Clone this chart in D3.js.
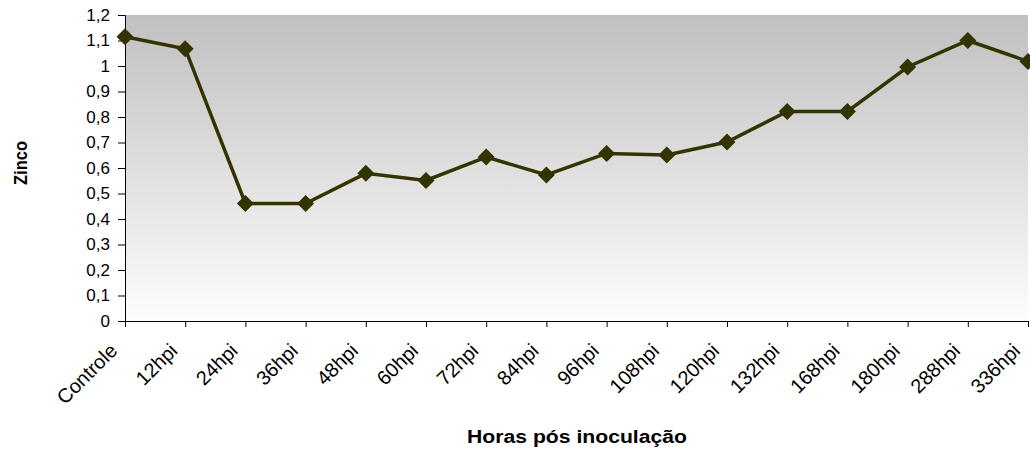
<!DOCTYPE html>
<html>
<head>
<meta charset="utf-8">
<script src="https://cdn.jsdelivr.net/npm/d3@7"></script>
<style>
  body { margin: 0; background: #fff; }
  text { font-family: "Liberation Sans", Arial, sans-serif; }
</style>
</head>
<body>
<div id="chart"></div>
<script>
// data
const categories = ['Controle', '12hpi', '24hpi', '36hpi', '48hpi', '60hpi', '72hpi', '84hpi',
  '96hpi', '108hpi', '120hpi', '132hpi', '168hpi', '180hpi', '288hpi', '336hpi'];
const zinco = [1.115, 1.068, 0.461, 0.461, 0.579, 0.551, 0.643, 0.573,
  0.657, 0.651, 0.702, 0.822, 0.822, 0.996, 1.1, 1.018];
const yTicks = [0, 0.1, 0.2, 0.3, 0.4, 0.5, 0.6, 0.7, 0.8, 0.9, 1, 1.1, 1.2];

const w = 1030;
const h = 453;
const margin = { left: 125, top: 15, right: 2, bottom: 132 };

const svg = d3.select('#chart').append('svg')
  .attr('width', w)
  .attr('height', h);

const x = d3.scalePoint()
  .domain(categories)
  .range([margin.left, w - margin.right]);

const y = d3.scaleLinear()
  .domain([0, 1.2])
  .range([h - margin.bottom, margin.top]);

// plot area background gradient
const grad = svg.append('defs').append('linearGradient')
  .attr('id', 'bg')
  .attr('x1', 0).attr('y1', 0).attr('x2', 0).attr('y2', 1);
grad.append('stop').attr('offset', '0%').attr('stop-color', '#c0c0c0');
grad.append('stop').attr('offset', '100%').attr('stop-color', '#fdfdfd');

svg.append('rect')
  .attr('x', margin.left)
  .attr('y', margin.top)
  .attr('width', w - margin.right - margin.left)
  .attr('height', h - margin.bottom - margin.top)
  .attr('fill', 'url(#bg)');

const fmt = d => String(d).replace('.', ',');

// y axis
const yAxis = svg.append('g')
  .attr('transform', `translate(${margin.left},0)`)
  .call(d3.axisLeft(y).tickValues(yTicks).tickFormat(fmt).tickSize(7).tickPadding(8));
yAxis.select('.domain').attr('stroke', '#000');
yAxis.selectAll('text')
  .attr('font-size', 17)
  .attr('fill', '#000')
  .attr('font-family', '"Liberation Sans", Arial, sans-serif');

// x axis
const xAxis = svg.append('g')
  .attr('transform', `translate(0,${h - margin.bottom})`)
  .call(d3.axisBottom(x).tickSize(6).tickSizeOuter(0));
xAxis.select('.domain').attr('stroke', '#000');
xAxis.selectAll('text')
  .attr('font-size', 20)
  .attr('fill', '#000')
  .attr('font-family', '"Liberation Sans", Arial, sans-serif')
  .attr('text-anchor', 'end')
  .attr('x', 0)
  .attr('y', 0)
  .attr('dy', 0)
  .attr('transform', 'translate(-7,31) rotate(-45)');

// line
svg.append('path')
  .datum(zinco)
  .attr('fill', 'none')
  .attr('stroke', '#333300')
  .attr('stroke-width', 3.5)
  .attr('d', d3.line()
    .x((d, i) => x(categories[i]))
    .y(d => y(d)));

// diamond markers
svg.selectAll('.pt')
  .data(zinco)
  .enter().append('path')
  .attr('class', 'pt')
  .attr('transform', (d, i) => `translate(${x(categories[i])},${y(d)})`)
  .attr('d', 'M0,-8.5L8.5,0L0,8.5L-8.5,0Z')
  .attr('fill', '#333300');

// axis titles
svg.append('text')
  .attr('transform', 'translate(27,163) rotate(-90)')
  .attr('text-anchor', 'middle')
  .attr('font-size', 18)
  .attr('font-weight', 'bold')
  .attr('textLength', 44)
  .attr('lengthAdjust', 'spacingAndGlyphs')
  .text('Zinco');

svg.append('text')
  .attr('x', 577)
  .attr('y', 443)
  .attr('text-anchor', 'middle')
  .attr('font-size', 18)
  .attr('font-weight', 'bold')
  .attr('textLength', 220)
  .attr('lengthAdjust', 'spacingAndGlyphs')
  .text('Horas pós inoculação');
</script>
</body>
</html>
